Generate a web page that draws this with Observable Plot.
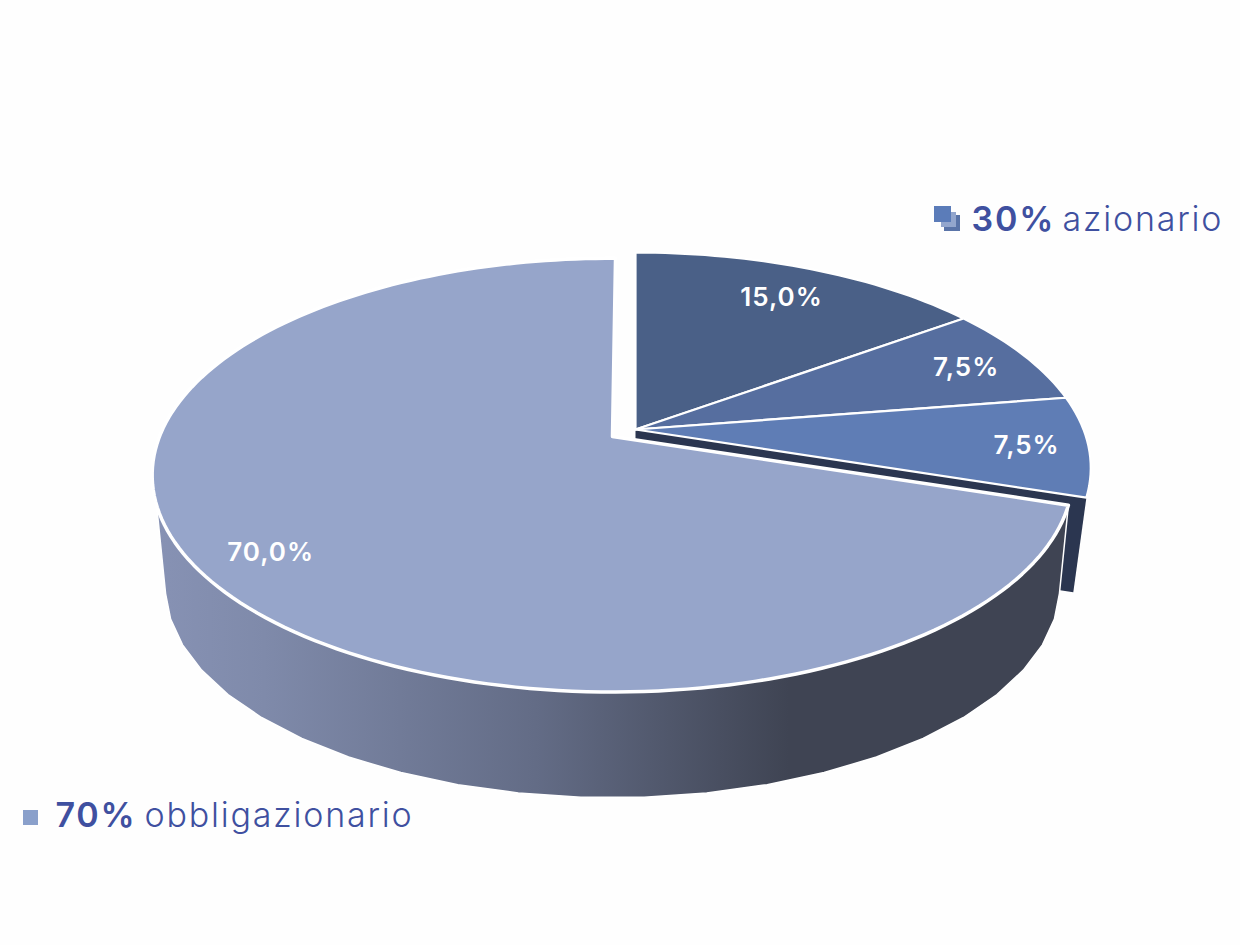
<!DOCTYPE html>
<html>
<head>
<meta charset="utf-8">
<script src="https://cdn.jsdelivr.net/npm/d3@7"></script>
<script src="https://cdn.jsdelivr.net/npm/@observablehq/plot@0.6"></script>
<style>
html,body{margin:0;padding:0;background:#fefefe;}
svg{display:block;}
svg text{letter-spacing:1.8px;}
svg g.slice-labels text{letter-spacing:1px;}
</style>
</head>
<body>
<div id="chart"></div>
<script>
// ---- data ----
const categories = ["azionario A", "azionario B", "azionario C", "obbligazionario"];
const shares = [15, 7.5, 7.5, 70];
const sliceColors = ["#4a6087", "#566e9f", "#5f7db5", "#96a5ca"];
const labelRadius = [0.81, 0.845, 0.865, 0.85];
const legendShares = ["30%", "70%"];
const legendNames = ["azionario", "obbligazionario"];

// ---- layout (perspective disc model) ----
const W = 1240, H = 945, FONT = "Inter, 'Open Sans', sans-serif", INK = "#3f50a0";
const persp = 0.178;
const bigTop = {cx: 612, cy: 436, a: 453, b: 210};
const bigBase = {cx: 612, cy: 549, a: 440, b: 204};
const smallTop = {cx: 635, cy: 429, a: 448, b: 208.5};
const smallBase = {cx: 635, cy: 525, a: 435, b: 204};
const topGapLean = 0.45; // the large slice's last edge leans slightly in the original

const rad = d => d * Math.PI / 180;
const project = (disc, deg, r = 1) => {
  const X = r * Math.sin(rad(deg)), Y = r * Math.cos(rad(deg)), d = 1 + persp * Y;
  return {x: disc.cx + disc.a * X / d, y: disc.cy - disc.b * Y / d};
};
const arc = (disc, from, to, step = 1.5) => {
  const n = Math.max(2, Math.ceil(Math.abs(to - from) / step));
  return d3.range(n + 1).map(i => project(disc, from + (to - from) * i / n));
};

// slice angles come from the shares
let run = 0;
const slices = shares.map((v, i) => {
  const start = run * 3.6; run += v;
  return {name: categories[i], value: v, start, end: run * 3.6, color: sliceColors[i],
          disc: i === 3 ? bigTop : smallTop, lr: labelRadius[i]};
});
const big = slices[3], cut = big.start;

const polygon = (points, options) =>
  Plot.line(points, {x: "x", y: "y", curve: "linear-closed", ...options});

// side wall of the large slice: visible part of the lower rim (faceted as in the original)
const wall = [...arc(bigTop, cut, 360 - cut), ...arc(bigBase, 258, 102, 7)];
// dark cut face of the detached group
const face = [{x: smallTop.cx, y: smallTop.cy}, project(smallTop, cut),
              project(smallBase, cut), {x: smallBase.cx, y: smallBase.cy}];
const sliceShape = (s, lean = 0) => [{x: s.disc.cx, y: s.disc.cy}, ...arc(s.disc, s.start, s.end + lean)];

const labels = slices.map(s => ({
  ...project(s.disc, (s.start + s.end) / 2, s.lr),
  text: s.value.toFixed(1).replace(".", ",") + "%"
}));

const gradient = () => {
  const svg = d3.create("svg:defs");
  const g = svg.append("linearGradient").attr("id", "wallShade")
    .attr("gradientUnits", "userSpaceOnUse")
    .attr("x1", 155).attr("x2", 1060).attr("y1", 0).attr("y2", 0);
  [[0, "#8792b4"], [0.12, "#7f8aaa"], [0.42, "#636c86"], [0.7, "#3f4453"], [1, "#3f4453"]]
    .forEach(([o, c]) => g.append("stop").attr("offset", o).attr("stop-color", c));
  return svg.node();
};

const swatches = [
  {x1: 944, x2: 960, y1: 215, y2: 231, fill: "#5a74a8"},
  {x1: 941, x2: 956, y1: 212, y2: 227, fill: "#93a6cd"},
  {x1: 934, x2: 951, y1: 206, y2: 222, fill: "#5b7cb9"},
  {x1: 23, x2: 38, y1: 810, y2: 825, fill: "#8aa0cb"}
];
const legend = [
  {x: 971, nx: 1062, y: 220, share: legendShares[0], name: legendNames[0]},
  {x: 55, nx: 144, y: 816, share: legendShares[1], name: legendNames[1]}
];

const chart = Plot.plot({
  width: W, height: H,
  margin: 0,
  style: {background: "#fefefe", fontFamily: FONT},
  x: {domain: [0, W], range: [0, W], axis: null},
  y: {domain: [0, H], range: [0, H], axis: null},
  marks: [
    gradient,
    polygon(face, {fill: "#2b3650", stroke: "none"}),
    ...slices.slice(0, 3).map(s => polygon(sliceShape(s), {fill: s.color, stroke: "white", strokeWidth: 2.2})),
    polygon(wall, {fill: "url(#wallShade)", stroke: "white", strokeWidth: 1.5}),
    polygon(sliceShape(big, topGapLean), {fill: big.color, stroke: "white", strokeWidth: 3.5}),
    Plot.text(labels, {x: "x", y: "y", dy: 1.5, text: "text", fill: "white", fontSize: 26, fontWeight: 600, fontFamily: FONT, className: "slice-labels"}),
    Plot.rect(swatches, {x1: "x1", x2: "x2", y1: "y1", y2: "y2", fill: "fill"}),
    Plot.text(legend, {x: "x", y: "y", text: "share", fill: INK, fontSize: 34, fontWeight: 600, textAnchor: "start", fontFamily: FONT}),
    Plot.text(legend, {x: "nx", y: "y", text: "name", fill: INK, fontSize: 34, fontWeight: 300, textAnchor: "start", fontFamily: FONT})
  ]
});
document.getElementById("chart").append(chart);
</script>
</body>
</html>
